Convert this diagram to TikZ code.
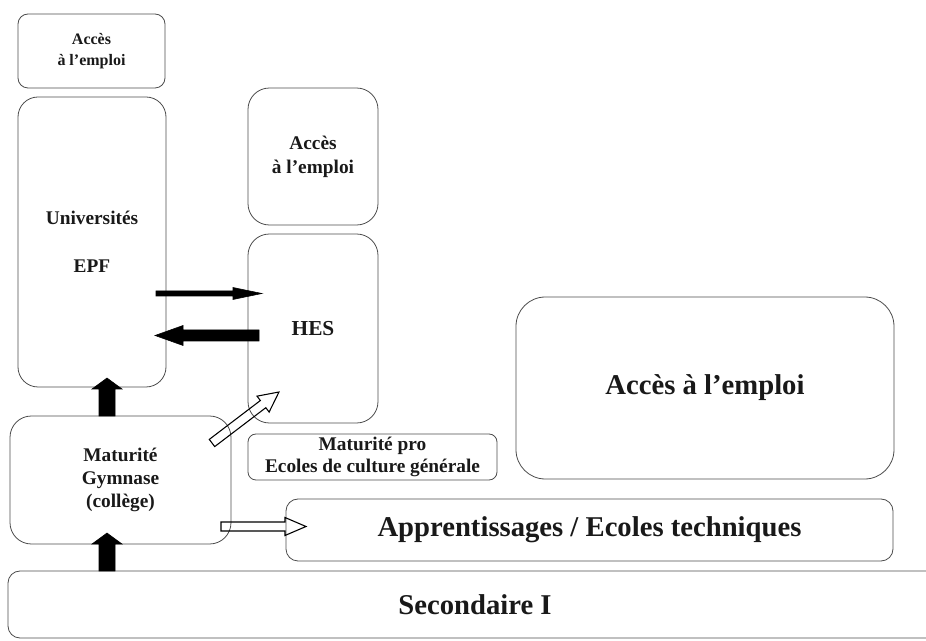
\documentclass[tikz,border=0pt]{standalone}
\usepackage{fontspec}
\setmainfont{Liberation Serif}
\usetikzlibrary{calc}

\begin{document}
\begin{tikzpicture}[x=0.75pt, y=-0.75pt,
    box/.style={draw=black!70, line width=0.6pt, rounded corners=#1,
      align=center, inner sep=0pt, text=black!90},
    sz/.style 2 args={minimum width=#1*0.75pt, minimum height=#2*0.75pt},
    txs/.style={font=\bfseries\fontsize{12}{15.75}\selectfont},
    txm/.style={font=\bfseries\fontsize{14.5}{17.5}\selectfont},
    txl/.style={font=\bfseries\fontsize{21.5}{26}\selectfont},
    blk/.style n args={3}{to path={let \p1=(\tikztostart), \p2=(\tikztotarget),
      \p3=($(\p2)!#3*0.75pt!(\p1)$) in
      ($(\p1)!#1*0.75pt!90:(\p2)$) -- ($(\p3)!#1*0.75pt!90:(\p2)$)
      -- ($(\p3)!#2*0.75pt!90:(\p2)$) -- (\p2)
      -- ($(\p3)!#2*0.75pt!-90:(\p2)$) -- ($(\p3)!#1*0.75pt!-90:(\p2)$)
      -- ($(\p1)!#1*0.75pt!-90:(\p2)$) -- cycle}}]

  \useasboundingbox (0,0) rectangle (926,641);

  % boxes
  \node[box=7.5pt, sz={147}{74}, txs] (acc1) at (91.5,51) {Accès\\à l'emploi};
  \node[box=15pt, sz={148}{290}, txm, font=\bfseries\fontsize{14.5}{36}\selectfont]
    (univ) at (92,242) {Universités\\EPF};
  \node[box=16pt, sz={130}{137}, txm, font=\bfseries\fontsize{14.5}{18}\selectfont]
    (acc2) at (313,156.5) {Accès\\à l'emploi};
  \node[box=16pt, sz={130}{189}, font=\bfseries\fontsize{16}{19}\selectfont]
    (hes) at (313,328.5) {HES};
  \node[box=6pt, sz={249}{46}, font=\bfseries\fontsize{14.5}{16.5}\selectfont]
    (mpro) at (372.5,457) {Maturité pro\\Ecoles de culture générale};
  \node[box=22pt, sz={378}{182}, txl] (acc3) at (705,388) {Accès à l'emploi};
  \node[box=9pt, sz={607}{62}, txl] (appr) at (589.5,530)
    {Apprentissages / Ecoles techniques};
  \node[box=16pt, sz={221}{128}, txm] (mat) at (120.5,480)
    {Maturité\\Gymnase\\(collège)};
  \node[box=9pt, sz={934}{67}, txl] (sec) at (475,604.5) {Secondaire I};

  % arrows
  \coordinate (s1) at (107,571);
  \coordinate (m1) at (107,533);
  \coordinate (m2) at (107,416);
  \coordinate (u1) at (107,378);
  \coordinate (u2) at (156,293.5);
  \coordinate (h1) at (262,293.5);
  \coordinate (h2) at (259,335.5);
  \coordinate (u3) at (155,335.5);
  \coordinate (m3) at (212,443);
  \coordinate (h3) at (279,392);
  \coordinate (m4) at (221,526.5);
  \coordinate (a1) at (306,526.5);

  \draw[blk={8}{15}{11}, fill=black] (s1) to (m1);
  \draw[blk={8}{15}{11}, fill=black] (m2) to (u1);
  \draw[blk={2.5}{6}{29}, fill=black] (u2) to (h1);
  \draw[blk={5.5}{10}{28}, fill=black] (h2) to (u3);
  \draw[blk={4.5}{10}{20}, line width=0.8pt] (m3) to (h3);
  \draw[blk={4.5}{9}{21}, line width=0.8pt] (m4) to (a1);
\end{tikzpicture}
\end{document}
